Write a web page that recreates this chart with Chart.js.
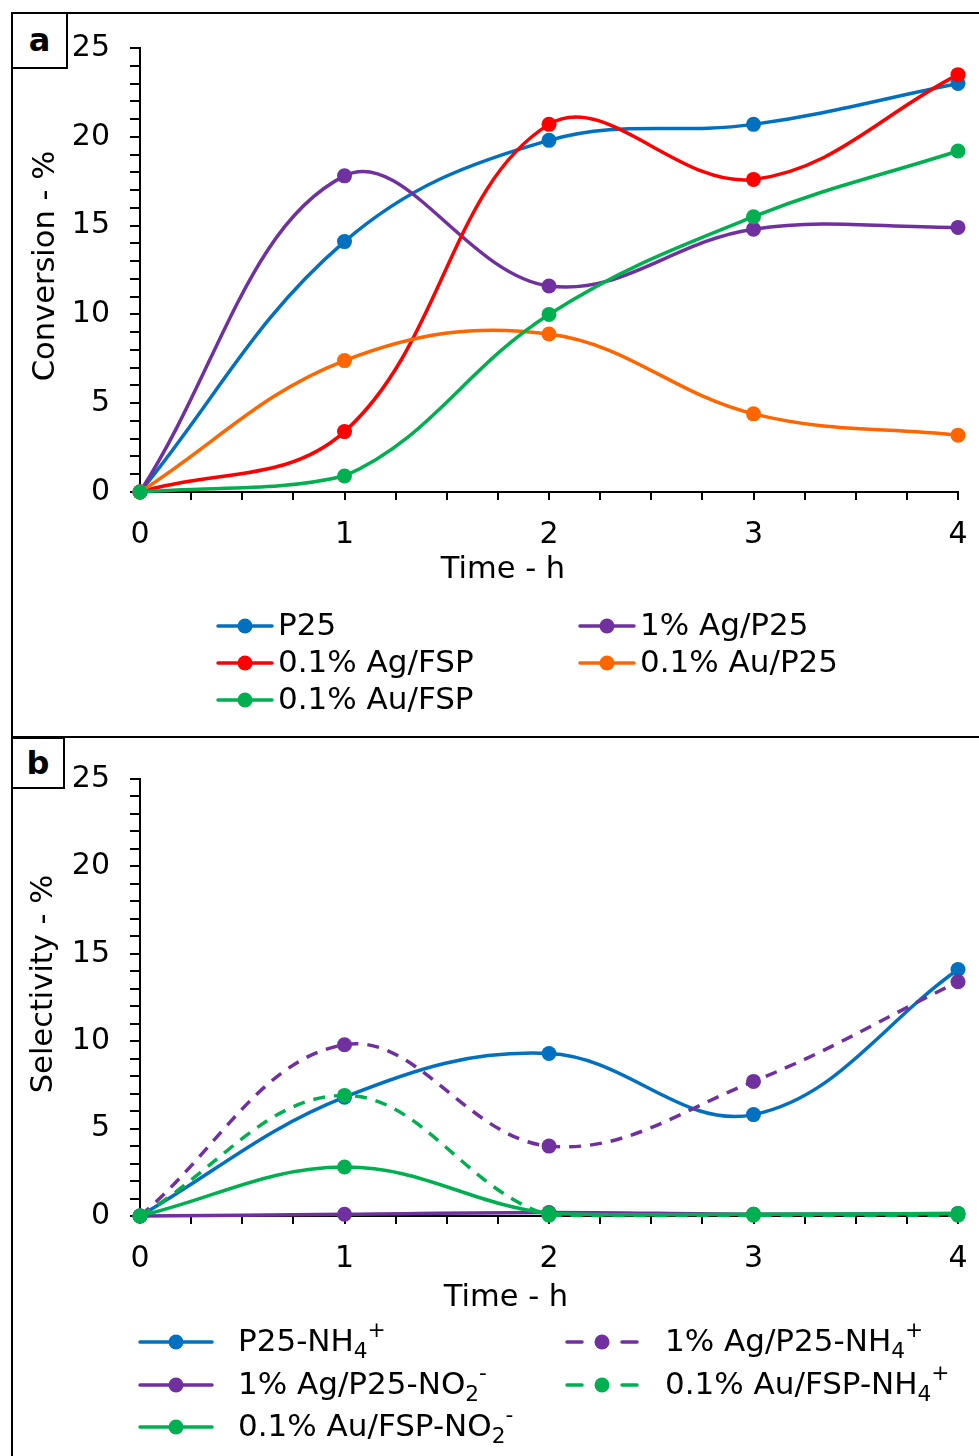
<!DOCTYPE html>
<html>
<head>
<meta charset="utf-8">
<script src="https://cdn.jsdelivr.net/npm/chart.js@4/dist/chart.umd.min.js"></script>
<style>
  html, body { margin: 0; padding: 0; background: #fff; width: 979px; height: 1456px; overflow: hidden; }
  .panel { position: absolute; left: 11px; width: 990px; border: 2px solid #000; box-sizing: border-box; }
  #pa { top: 12px; height: 726px; }
  #pb { top: 736px; height: 740px; }
  .tag { position: absolute; left: 11px; border: 2px solid #000; box-sizing: border-box; background: #fff;
         font: bold 32px "DejaVu Sans", Verdana, sans-serif; text-align: center; color: #000; }
  #ta { top: 12px; width: 57px; height: 57px; line-height: 52px; }
  #tb { top: 737px; width: 54px; height: 52px; line-height: 48px; }
  canvas { position: absolute; left: 0; }
  #ca { top: 0; }
  #cb { top: 737px; }
</style>
</head>
<body>
<div class="panel" id="pa"></div>
<div class="panel" id="pb"></div>
<canvas id="ca" width="979" height="737"></canvas>
<canvas id="cb" width="979" height="719"></canvas>
<div class="tag" id="ta">a</div>
<div class="tag" id="tb">b</div>
<script>
const hours = [0, 1, 2, 3, 4];

// panel a - conversion
const convLabels = ['P25', '1% Ag/P25', '0.1% Ag/FSP', '0.1% Au/P25', '0.1% Au/FSP'];
const convP25 = [0, 14.1, 19.8, 20.7, 23.0];
const convAgP25 = [0, 17.8, 11.6, 14.8, 14.9];
const convAgFSP = [0, 3.4, 20.7, 17.6, 23.5];
const convAuP25 = [0, 7.4, 8.9, 4.4, 3.2];
const convAuFSP = [0, 0.9, 10.0, 15.5, 19.2];

// panel b - selectivity ("_" = subscript, "^" = superscript for next char)
const selLabels = ['P25-NH_4^+', '1% Ag/P25-NH_4^+', '1% Ag/P25-NO_2^-', '0.1% Au/FSP-NH_4^+', '0.1% Au/FSP-NO_2^-'];
const selP25NH4 = [0, 6.8, 9.3, 5.8, 14.1];
const selAgNH4 = [0, 9.8, 4.0, 7.7, 13.4];
const selAgNO2 = [0, 0.1, 0.2, 0.1, 0.15];
const selAuNH4 = [0, 6.9, 0.05, 0.05, 0.05];
const selAuNO2 = [0, 2.8, 0.15, 0.1, 0.15];

const F = '"DejaVu Sans", Verdana, sans-serif';
const BLUE = '#0070C0', PURPLE = '#7030A0', RED = '#FF0000', ORANGE = '#FF6600', GREEN = '#00B050';

const pts = (vals) => hours.map((h, i) => ({ x: h, y: vals[i] }));

const mkSet = (label, vals, color, dashed, n, i) => ({
  label: label,
  data: pts(vals),
  borderColor: color,
  backgroundColor: color,
  borderWidth: 3.5,
  borderDash: dashed ? [12, 9] : [],
  pointRadius: 7.5,
  pointBorderWidth: 0,
  pointBackgroundColor: color,
  tension: 0.38,
  clip: false,
  order: n - i,
  dashed: dashed
});

// split "NH_4^+" into runs
const runs = (str) => {
  const out = [];
  let cur = '';
  for (let i = 0; i < str.length; i++) {
    const ch = str[i];
    if ((ch === '_' || ch === '^') && i + 1 < str.length) {
      if (cur) out.push({ t: cur, k: 0 });
      cur = '';
      out.push({ t: str[++i], k: ch === '_' ? 1 : -1 });
    } else {
      cur += ch;
    }
  }
  if (cur) out.push({ t: cur, k: 0 });
  return out;
};

const drawRich = (ctx, str, x, y, size) => {
  let cx = x;
  runs(str).forEach((r) => {
    const fs = r.k ? size * 0.7 : size;
    ctx.font = fs + 'px ' + F;
    const dy = r.k === 1 ? size * 0.3 : r.k === -1 ? -size * 0.38 : 0;
    ctx.fillText(r.t, cx, y + dy);
    cx += ctx.measureText(r.t).width;
  });
};

const extrasPlugin = {
  id: 'extras',
  afterDraw(chart, args, opts) {
    const ctx = chart.ctx;
    ctx.save();
    ctx.fillStyle = '#000';
    ctx.textBaseline = 'middle';
    ctx.textAlign = 'center';
    ctx.font = opts.titleSize + 'px ' + F;
    ctx.fillText(opts.xTitle.text, opts.xTitle.x, opts.xTitle.y);
    ctx.save();
    ctx.translate(opts.yTitle.x, opts.yTitle.y);
    ctx.rotate(-Math.PI / 2);
    ctx.fillText(opts.yTitle.text, 0, 0);
    ctx.restore();

    ctx.textAlign = 'left';
    opts.legend.forEach((it) => {
      const ds = chart.data.datasets[it.ds];
      ctx.strokeStyle = ds.borderColor;
      ctx.lineWidth = ds.borderWidth;
      ctx.lineCap = 'round';
      ctx.beginPath();
      if (ds.dashed) {
        ctx.moveTo(it.x1, it.y); ctx.lineTo(it.x1 + 15, it.y);
        ctx.moveTo(it.x2 - 15, it.y); ctx.lineTo(it.x2, it.y);
      } else {
        ctx.moveTo(it.x1, it.y); ctx.lineTo(it.x2, it.y);
      }
      ctx.stroke();
      ctx.fillStyle = ds.borderColor;
      ctx.beginPath();
      ctx.arc((it.x1 + it.x2) / 2, it.y, ds.pointRadius, 0, Math.PI * 2);
      ctx.fill();
      ctx.fillStyle = '#000';
      drawRich(ctx, ds.label, it.tx, it.y + 1, opts.legendSize);
    });
    ctx.restore();
  }
};

const makeChart = (id, datasets, cfg) => new Chart(document.getElementById(id), {
  type: 'line',
  data: { datasets: datasets },
  plugins: [extrasPlugin],
  options: {
    responsive: false,
    animation: false,
    devicePixelRatio: 1,
    layout: { padding: { left: 0, right: 21, top: cfg.top, bottom: cfg.bottom } },
    plugins: {
      legend: { display: false },
      tooltip: { enabled: false },
      extras: cfg.extras
    },
    scales: {
      x: {
        type: 'linear', min: 0, max: 4,
        ticks: {
          stepSize: 0.25, autoSkip: false, maxRotation: 0, padding: 17, color: '#000',
          font: { family: F, size: 30 },
          callback: (v) => Number.isInteger(v) ? v : ''
        },
        grid: { drawOnChartArea: false, tickLength: 8, color: '#000', lineWidth: 2 },
        border: { display: true, color: '#000', width: 2 },
        afterFit: (s) => { s.height = 100; s.paddingLeft = 0; s.paddingRight = 0; }
      },
      y: {
        min: 0, max: 25,
        ticks: {
          stepSize: 1, autoSkip: false, padding: 20, color: '#000',
          font: { family: F, size: 30 },
          callback: (v) => v % 5 === 0 ? v : ''
        },
        grid: { drawOnChartArea: false, tickLength: 10, color: '#000', lineWidth: 2 },
        border: { display: true, color: '#000', width: 2 },
        afterFit: (s) => { s.width = 140; }
      }
    }
  }
});

const convColors = [BLUE, PURPLE, RED, ORANGE, GREEN];
const convVals = [convP25, convAgP25, convAgFSP, convAuP25, convAuFSP];
makeChart('ca', convLabels.map((l, i) => mkSet(l, convVals[i], convColors[i], false, 5, i)), {
  top: 48, bottom: 145,
  extras: {
    titleSize: 30.5, legendSize: 31,
    xTitle: { text: 'Time - h', x: 503, y: 570 },
    yTitle: { text: 'Conversion - %', x: 46, y: 266 },
    legend: [
      { ds: 0, x1: 218, x2: 272, tx: 278, y: 626 },
      { ds: 1, x1: 580, x2: 634, tx: 640, y: 626 },
      { ds: 2, x1: 218, x2: 272, tx: 278, y: 663 },
      { ds: 3, x1: 580, x2: 634, tx: 640, y: 663 },
      { ds: 4, x1: 218, x2: 272, tx: 278, y: 700 }
    ]
  }
});

const selColors = [BLUE, PURPLE, PURPLE, GREEN, GREEN];
const selDash = [false, true, false, true, false];
const selVals = [selP25NH4, selAgNH4, selAgNO2, selAuNH4, selAuNO2];
makeChart('cb', selLabels.map((l, i) => mkSet(l, selVals[i], selColors[i], selDash[i], 5, i)), {
  top: 42, bottom: 140,
  extras: {
    titleSize: 30.5, legendSize: 31,
    xTitle: { text: 'Time - h', x: 506, y: 1298 - 737 },
    yTitle: { text: 'Selectivity - %', x: 44, y: 247 },
    legend: [
      { ds: 0, x1: 140, x2: 212, tx: 238, y: 605 },
      { ds: 1, x1: 567, x2: 637, tx: 665, y: 605 },
      { ds: 2, x1: 140, x2: 212, tx: 238, y: 648 },
      { ds: 3, x1: 567, x2: 637, tx: 665, y: 648 },
      { ds: 4, x1: 140, x2: 212, tx: 238, y: 690 }
    ]
  }
});
</script>
</body>
</html>
